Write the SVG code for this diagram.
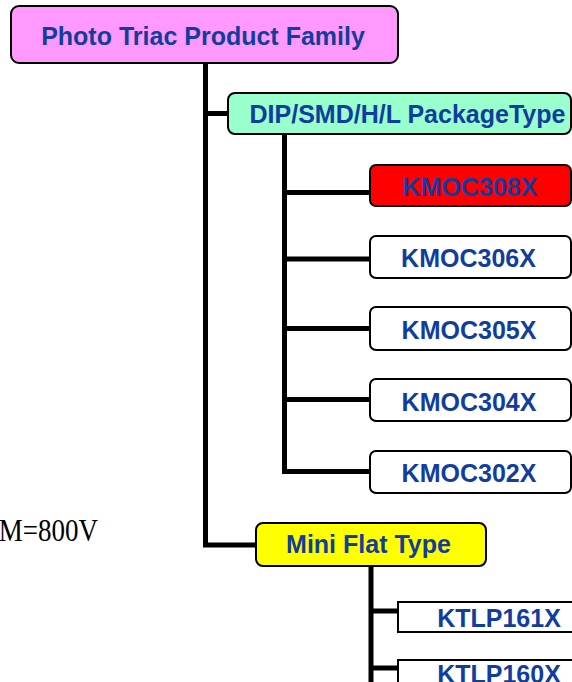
<svg xmlns="http://www.w3.org/2000/svg" width="572" height="682" viewBox="0 0 572 682">
<style>
.box{stroke:#000;stroke-width:2}
.t{font-family:"Liberation Sans",Arial,sans-serif;font-weight:bold;font-size:25px;fill:#113D9E;text-anchor:middle}
.c{stroke:#000;stroke-width:5;fill:none}
</style>
<rect width="572" height="682" fill="#fff"/>
<g id="connectors">
<path class="c" d="M205.5 63V545H256"/>
<path class="c" d="M205.5 113.5H228"/>
<path class="c" d="M284.5 134V471.5H370M284.5 192.5H370M284.5 259H370M284.5 328.5H370M284.5 399.5H370"/>
<path class="c" d="M371 566V682M371 611H398M371 668H398"/>
</g>
<g id="root"><rect class="box" x="11" y="6" width="387" height="57" rx="8" fill="#FF99FF"/><text class="t" x="203" y="44.5">Photo Triac Product Family</text></g>
<g id="dip"><rect class="box" x="228" y="93" width="343" height="41" rx="7" fill="#99FFCC"/><text class="t" x="407.5" y="123">DIP/SMD/H/L PackageType</text></g>
<g id="kmoc308x"><rect class="box" x="370" y="165" width="201" height="41" rx="6" fill="#FF0000"/><text class="t" x="470" y="195.5">KMOC308X</text></g>
<g id="kmoc306x"><rect class="box" x="370" y="236" width="201" height="42" rx="6" fill="#fff"/><text class="t" x="468.5" y="267">KMOC306X</text></g>
<g id="kmoc305x"><rect class="box" x="370" y="307" width="201" height="43" rx="6" fill="#fff"/><text class="t" x="469" y="338.5">KMOC305X</text></g>
<g id="kmoc304x"><rect class="box" x="370" y="379" width="201" height="42" rx="6" fill="#fff"/><text class="t" x="469" y="410.5">KMOC304X</text></g>
<g id="kmoc302x"><rect class="box" x="370" y="451" width="201" height="42" rx="6" fill="#fff"/><text class="t" x="469" y="482">KMOC302X</text></g>
<g id="miniflat"><rect class="box" x="256" y="523" width="230" height="43" rx="7" fill="#FFFF00"/><text class="t" x="368.5" y="553">Mini Flat Type</text></g>
<g id="ktlp161x"><rect class="box" x="398" y="602" width="180" height="30" fill="#fff"/><text class="t" x="499" y="627">KTLP161X</text></g>
<g id="ktlp160x"><rect class="box" x="398" y="660" width="180" height="30" fill="#fff"/><text class="t" x="499" y="683">KTLP160X</text></g>
<text transform="translate(98 541) scale(1 1.17)" font-family="'Liberation Serif','Times New Roman',serif" font-size="27" text-anchor="end" fill="#000">M=800V</text>
</svg>
